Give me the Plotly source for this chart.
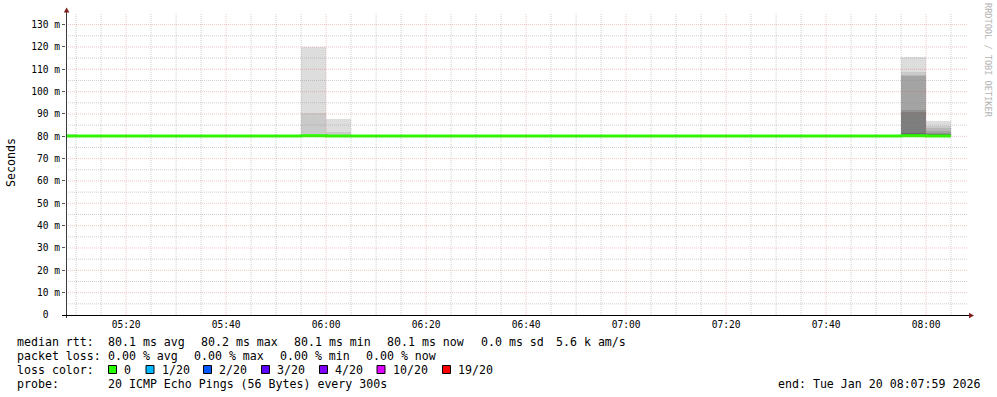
import plotly.graph_objects as go
import pandas as pd

FONT = "DejaVu Sans Mono"

# ---------------- data ----------------
# 5-minute bins (end time of each bin)
bin_end = pd.date_range("2026-01-20 05:10", "2026-01-20 08:05", freq="5min")

median_rtt = [80.1, 80.1, 80.1, 80.1, 80.1, 80.1, 80.1, 80.1, 80.1, 80.1,
              80.2, 80.1, 80.1, 80.1, 80.1, 80.1, 80.1, 80.1, 80.1, 80.1,
              80.1, 80.1, 80.1, 80.1, 80.1, 80.1, 80.1, 80.1, 80.1, 80.1,
              80.1, 80.1, 80.1, 80.1, 80.2, 80.1]

# lowest pings (hidden under the median line)
ping_low = [80.0] * 36

# upper sorted pings (ping 20 = max, ping 14 = 7th highest) in ms
ping_20 = [80.9, 80.2, 80.2, 80.2, 80.2, 80.2, 80.7, 80.2, 80.2, 80.7,
           120.0, 87.6, 80.6, 80.6, 80.7, 80.2, 80.2, 80.7, 80.7, 80.2,
           80.7, 80.2, 80.2, 80.2, 80.2, 80.2, 80.2, 80.2, 80.2, 80.2,
           80.2, 80.7, 80.2, 80.2, 115.3, 86.7]
ping_19 = [80.2, 80.2, 80.2, 80.2, 80.2, 80.2, 80.2, 80.2, 80.2, 80.2,
           90.3, 81.8, 80.2, 80.2, 80.2, 80.2, 80.2, 80.2, 80.2, 80.2,
           80.2, 80.2, 80.2, 80.2, 80.2, 80.2, 80.2, 80.2, 80.2, 80.2,
           80.2, 80.2, 80.2, 80.2, 109.0, 84.4]
ping_18 = [80.2, 80.2, 80.2, 80.2, 80.2, 80.2, 80.2, 80.2, 80.2, 80.2,
           80.6, 80.6, 80.2, 80.2, 80.2, 80.2, 80.2, 80.2, 80.2, 80.2,
           80.2, 80.2, 80.2, 80.2, 80.2, 80.2, 80.2, 80.2, 80.2, 80.2,
           80.2, 80.2, 80.2, 80.2, 107.5, 83.5]
ping_17 = [80.2, 80.2, 80.2, 80.2, 80.2, 80.2, 80.2, 80.2, 80.2, 80.2,
           80.4, 80.4, 80.2, 80.2, 80.2, 80.2, 80.2, 80.2, 80.2, 80.2,
           80.2, 80.2, 80.2, 80.2, 80.2, 80.2, 80.2, 80.2, 80.2, 80.2,
           80.2, 80.2, 80.2, 80.2, 106.8, 82.3]
ping_16 = [80.2, 80.2, 80.2, 80.2, 80.2, 80.2, 80.2, 80.2, 80.2, 80.2,
           80.3, 80.3, 80.2, 80.2, 80.2, 80.2, 80.2, 80.2, 80.2, 80.2,
           80.2, 80.2, 80.2, 80.2, 80.2, 80.2, 80.2, 80.2, 80.2, 80.2,
           80.2, 80.2, 80.2, 80.2, 92.0, 81.6]
ping_15 = [80.2, 80.2, 80.2, 80.2, 80.2, 80.2, 80.2, 80.2, 80.2, 80.2,
           80.2, 80.2, 80.2, 80.2, 80.2, 80.2, 80.2, 80.2, 80.2, 80.2,
           80.2, 80.2, 80.2, 80.2, 80.2, 80.2, 80.2, 80.2, 80.2, 80.2,
           80.2, 80.2, 80.2, 80.2, 91.0, 81.2]
ping_14 = [80.2, 80.2, 80.2, 80.2, 80.2, 80.2, 80.2, 80.2, 80.2, 80.2,
           80.2, 80.2, 80.2, 80.2, 80.2, 80.2, 80.2, 80.2, 80.2, 80.2,
           80.2, 80.2, 80.2, 80.2, 80.2, 80.2, 80.2, 80.2, 80.2, 80.2,
           80.2, 80.2, 80.2, 80.2, 81.3, 80.9]

y_tick_vals = [0, 10, 20, 30, 40, 50, 60, 70, 80, 90, 100, 110, 120, 130]
y_tick_text = ["0\u00a0\u00a0", "10 m", "20 m", "30 m", "40 m", "50 m", "60 m",
               "70 m", "80 m", "90 m", "100 m", "110 m", "120 m", "130 m"]

median_stats = ["80.1 ms avg", "80.2 ms max", "80.1 ms min", "80.1 ms now",
                "0.0 ms sd", "5.6 k am/s"]
loss_stats = ["0.00 % avg", "0.00 % max", "0.00 % min", "0.00 % now"]
loss_labels = ["0", "1/20", "2/20", "3/20", "4/20", "10/20", "19/20"]
loss_colors = ["#26ff00", "#00b8ff", "#0059ff", "#5e00ff", "#7e00ff", "#dd00ff", "#ff0000"]
probe_text = "20 ICMP Echo Pings (56 Bytes) every 300s"
end_text = "end: Tue Jan 20 08:07:59 2026"

# ---------------- layout geometry ----------------
W, H = 997, 397
ML, MR, MT, MB = 66, 31, 13, 82
PW, PH = W - ML - MR, H - MT - MB
X0 = "2026-01-20 05:07:59"
X1 = "2026-01-20 08:07:59"
YMAX = 135.2


def px(x):
    return (x - ML) / PW


def py(y):
    return (H - MB - y) / PH


fig = go.Figure()

# smoke bands (outermost first)
tops = [ping_20, ping_19, ping_18, ping_17, ping_16, ping_15, ping_14]
for k, top in enumerate(tops, start=1):
    g = int(190 / 10 * (10 - k)) + 50
    col = "#%02x%02x%02x" % (g, g, g)
    fig.add_trace(go.Bar(
        x=bin_end, y=[t - b for t, b in zip(top, ping_low)], base=ping_low,
        width=300000, offset=-300000, marker=dict(color=col, line=dict(width=0)),
        hoverinfo="skip", showlegend=False))

# median line (step)
bin_start = list(bin_end - pd.Timedelta(minutes=5))
fig.add_trace(go.Scatter(
    x=bin_start + [bin_end[-1]], y=median_rtt + [median_rtt[-1]],
    mode="lines", line=dict(color=loss_colors[0], width=3, shape="hv"),
    hoverinfo="skip", showlegend=False))

shapes = []
GRID = "rgba(143,143,143,0.42)"
MGRID = "rgba(222,79,79,0.32)"
DASH = "1px,1px"

# vertical grid
for t in pd.date_range("2026-01-20 05:10", "2026-01-20 08:05", freq="5min"):
    major = (t.minute % 20 == 0)
    shapes.append(dict(type="line", xref="x", yref="paper", x0=t, x1=t, y0=0, y1=1,
                       line=dict(color=MGRID if major else GRID, width=1, dash=DASH),
                       layer="above"))
# horizontal grid
for v in range(5, 131, 5):
    major = (v % 10 == 0)
    shapes.append(dict(type="line", xref="paper", yref="y", x0=0, x1=px(968), y0=v, y1=v,
                       line=dict(color=MGRID if major else GRID, width=1, dash=DASH),
                       layer="above"))

# axes
shapes.append(dict(type="line", xref="paper", yref="paper", x0=px(66.5), x1=px(66.5),
                   y0=py(318), y1=py(10), line=dict(color="#3a3a3a", width=1), layer="above"))
shapes.append(dict(type="line", xref="paper", yref="paper", x0=px(62), x1=px(970),
                   y0=py(315.5), y1=py(315.5), line=dict(color="#000000", width=1), layer="above"))
# arrows
shapes.append(dict(type="path", xref="paper", yref="paper",
                   path="M %f %f L %f %f L %f %f Z" % (px(63.8), py(12.5), px(66.6), py(7.5), px(69.4), py(12.5)),
                   fillcolor="#7f1f1f", line=dict(width=0), layer="above"))
shapes.append(dict(type="path", xref="paper", yref="paper",
                   path="M %f %f L %f %f L %f %f Z" % (px(969), py(312.7), px(974), py(315.5), px(969), py(318.3)),
                   fillcolor="#7f1f1f", line=dict(width=0), layer="above"))

annotations = []


def txt(x, y, s, anchor="left", size=11.6, color="#000000", angle=0):
    annotations.append(dict(xref="paper", yref="paper", x=px(x), y=py(y), text=s,
                            showarrow=False, xanchor=anchor, yanchor="middle",
                            textangle=angle, borderpad=0,
                            font=dict(family=FONT, size=size, color=color)))


ROW = [341.5, 355.5, 369.5, 383.5]
txt(16, ROW[0], "median rtt:")
for s, x in zip(median_stats, [107, 200, 293, 386, 480, 555]):
    txt(x, ROW[0], s)
txt(16, ROW[1], "packet loss:")
for s, x in zip(loss_stats, [107, 193, 279, 365]):
    txt(x, ROW[1], s)
txt(16, ROW[2], "loss color:")
sq_x = [108, 145.5, 203, 261, 319, 376.5, 442]
for s, c, x in zip(loss_labels, loss_colors, sq_x):
    shapes.append(dict(type="rect", xref="paper", yref="paper",
                       x0=px(x + 0.5), x1=px(x + 8.5), y0=py(373.5), y1=py(365.5),
                       fillcolor=c, line=dict(color="#000000", width=1), layer="above"))
    txt(x + 15, ROW[2], s)
txt(16, ROW[3], "probe:")
txt(107, ROW[3], probe_text)
txt(981, ROW[3], end_text, anchor="right")

txt(11, 163, "Seconds", anchor="center", angle=-90)
txt(988, 60, "RRDTOOL / TOBI OETIKER", anchor="center", size=8.6, color="#b4b4b4", angle=90)

fig.update_layout(
    width=W, height=H,
    margin=dict(l=ML, r=MR, t=MT, b=MB, pad=0),
    paper_bgcolor="white", plot_bgcolor="white",
    barmode="overlay", bargap=0,
    showlegend=False,
    shapes=shapes, annotations=annotations,
    font=dict(family=FONT, color="#000000"),
    xaxis=dict(type="date", range=[X0, X1], showgrid=False, zeroline=False, showline=False,
               tick0="2026-01-20 05:20", dtick=1200000, tickformat="%H:%M",
               ticks="", ticklabelstandoff=2,
               tickfont=dict(family=FONT, size=9.6, color="#000000"),
               fixedrange=True),
    yaxis=dict(range=[0, YMAX], showgrid=False, zeroline=False, showline=False,
               tickmode="array", tickvals=y_tick_vals, ticktext=y_tick_text,
               ticks="outside", ticklen=3, tickcolor="#555555", tickwidth=1,
               tickfont=dict(family=FONT, size=9.6, color="#000000"),
               fixedrange=True),
)

fig.write_html("out.html", config={"displayModeBar": False})
